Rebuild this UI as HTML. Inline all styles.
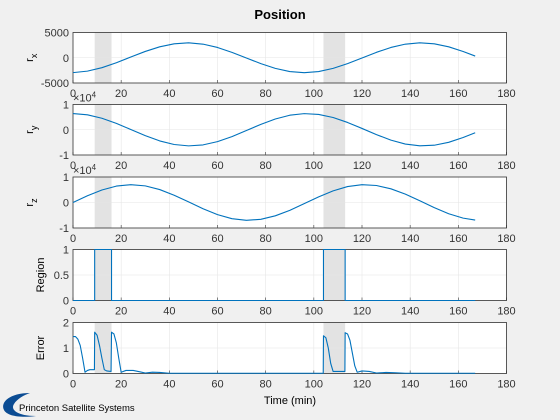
<!DOCTYPE html>
<html><head><meta charset="utf-8"><style>
body{margin:0;background:#f0f0f0;}
svg{display:block;font-family:"Liberation Sans",sans-serif;}
</style></head><body>
<svg id="chart" width="560" height="420"></svg>
<script>
const times=[0,6,12,18,24,30,36,42,48,54,60,66,72,78,84,90,96,102,108,114,120,126,132,138,144,150,156,162,167];
const rxVals=[-2944,-2651,-1966,-985,144,1248,2168,2765,2948,2694,2036,1071,-51,-1162,-2103,-2732,-2950,-2729,-2100,-1159,-47,1074,2038,2696,2948,2762,2165,1242,334];
const ryVals=[0.64,0.592,0.456,0.252,0.010,-0.233,-0.442,-0.584,-0.639,-0.600,-0.470,-0.271,-0.031,0.214,0.426,0.575,0.639,0.607,0.485,0.289,0.052,-0.193,-0.410,-0.566,-0.637,-0.613,-0.498,-0.308,-0.12];
const rzVals=[0,0.265,0.491,0.643,0.700,0.652,0.507,0.286,0.023,-0.244,-0.475,-0.634,-0.699,-0.660,-0.522,-0.307,-0.045,0.222,0.457,0.625,0.698,0.667,0.537,0.328,0.068,-0.201,-0.440,-0.613,-0.689];
const regionT=[0,9,9,16,16,104,104,113,113,167];
const regionVals=[0,0,1,1,0,0,1,1,0,0];
const errT=[0,1,2,3,4,5,6,7,8.9,9,10,11,12,13,14,15.8,16,17,18,19,20,22,25,28,30,33,36,40,50,103.9,104,105,106,107,108,112.9,113,114,115,116,117,118,120,123,126,130,134,138,167];
const errVals=[1.45,1.45,1.35,1.1,0.6,0.05,0.12,0.15,0.15,1.62,1.5,1.1,0.6,0.15,0.1,0.08,1.62,1.55,1.2,0.6,0.05,0.12,0.12,0.06,0.02,0.05,0.04,0.01,0.01,0.01,1.48,1.4,1.0,0.4,0.08,0.08,1.6,1.55,1.3,0.8,0.3,0.05,0.1,0.08,0.02,0.04,0.03,0.01,0.01];
const shadeStart=[9,104];
const shadeEnd=[16,113];
const xTicks=[0,20,40,60,80,100,120,140,160,180];

const NS="http://www.w3.org/2000/svg";
const svg=document.getElementById('chart');
function mk(tag,attrs,parent,text){const e=document.createElementNS(NS,tag);for(const k in attrs)e.setAttribute(k,attrs[k]);if(text!==undefined)e.textContent=text;(parent||svg).appendChild(e);return e;}
const X0=73,X1=506.5;
const xs=t=>X0+(t/180)*(X1-X0);

const panels=[
 {name:'rx',top:32.5,bot:83,min:-5000,max:5000,ticks:[-5000,0,5000],labels:['-5000','0','5000'],t:times,v:rxVals,ylab:'r',sub:'x',exp:false},
 {name:'ry',top:104.5,bot:155,min:-1,max:1,ticks:[-1,0,1],labels:['-1','0','1'],t:times,v:ryVals,ylab:'r',sub:'y',exp:true},
 {name:'rz',top:177,bot:228,min:-1,max:1,ticks:[-1,0,1],labels:['-1','0','1'],t:times,v:rzVals,ylab:'r',sub:'z',exp:true},
 {name:'region',top:249.5,bot:300.5,min:0,max:1,ticks:[0,0.5,1],labels:['0','0.5','1'],t:regionT,v:regionVals,ylab:'Region',exp:false},
 {name:'error',top:322.5,bot:373.5,min:0,max:2,ticks:[0,1,2],labels:['0','1','2'],t:errT,v:errVals,ylab:'Error',exp:false}
];
mk('text',{x:280,y:19,'text-anchor':'middle','font-size':13,'font-weight':'bold',fill:'#000',},svg,'Position');

panels.forEach(p=>{
 const g=mk('g',{});
 
 
 const ys=v=>p.bot-(v-p.min)/(p.max-p.min)*(p.bot-p.top);
 const bg=mk('rect',{x:X0,y:p.top,width:X1-X0,height:p.bot-p.top,fill:'#fff'},g);
 
 
 shadeStart.forEach((s,i)=>{
  const r=mk('rect',{x:xs(s),y:p.top,width:xs(shadeEnd[i])-xs(s),height:p.bot-p.top,fill:'#e3e3e3'},g);
  
  
 });
 xTicks.forEach(t=>{
  const l=mk('line',{x1:xs(t),x2:xs(t),y1:p.top,y2:p.bot,stroke:'#e6e6e6','stroke-width':0.6},g);
  
  
  const tl=mk('text',{x:xs(t),y:p.bot+14,'text-anchor':'middle','font-size':11,fill:'#333'},g,String(t));
  
  
  mk('line',{x1:xs(t),x2:xs(t),y1:p.bot,y2:p.bot-3,stroke:'#333','stroke-width':0.6},g);
 });
 p.ticks.forEach((v,i)=>{
  const l=mk('line',{x1:X0,x2:X1,y1:ys(v),y2:ys(v),stroke:'#e6e6e6','stroke-width':0.6},g);
  
  
  const tl=mk('text',{x:X0-4,y:ys(v)+4,'text-anchor':'end','font-size':11,fill:'#333'},g,p.labels[i]);
  
  
 });
 const fr=mk('rect',{x:X0,y:p.top,width:X1-X0,height:p.bot-p.top,fill:'none',stroke:'#333','stroke-width':0.8},g);
 
 
 let d='';
 p.t.forEach((t,i)=>{d+=(i?'L':'M')+xs(t).toFixed(2)+','+ys(p.v[i]).toFixed(2);});
 const line=mk('path',{d:d,fill:'none',stroke:'#0072bd','stroke-width':1.1,'stroke-linejoin':'round'},g);
 
 
 const cy=(p.top+p.bot)/2;
 const yl=mk('text',{transform:'translate('+(p.sub?33:44)+','+cy+') rotate(-90)','text-anchor':'middle','font-size':11,fill:'#000'},g);
 
 
 mk('tspan',{},yl,p.ylab);
 if(p.sub)mk('tspan',{'font-size':9,dy:4},yl,p.sub);
 if(p.exp){
  const e=mk('text',{x:X0,y:p.top-3,'font-size':11,fill:'#333'},g);
  
  
  mk('tspan',{},e,'×10');
  mk('tspan',{'font-size':8,dy:-4},e,'4');
 }
});
mk('text',{x:290,y:404,'text-anchor':'middle','font-size':11,fill:'#000',},svg,'Time (min)');
</script>
<svg style="position:absolute;left:0;top:390px" width="160" height="30">
<path d="M30,3 C10,3 0,12 4,20 C7,26 20,28 36,26 C18,26 10,20 14,14 C17,9 24,5 30,3 Z" fill="#0b4c93"/>
<text x="19" y="21" font-size="9.5" fill="#000" font-family="Liberation Sans,sans-serif">Princeton Satellite Systems</text>
</svg>
</body></html>
